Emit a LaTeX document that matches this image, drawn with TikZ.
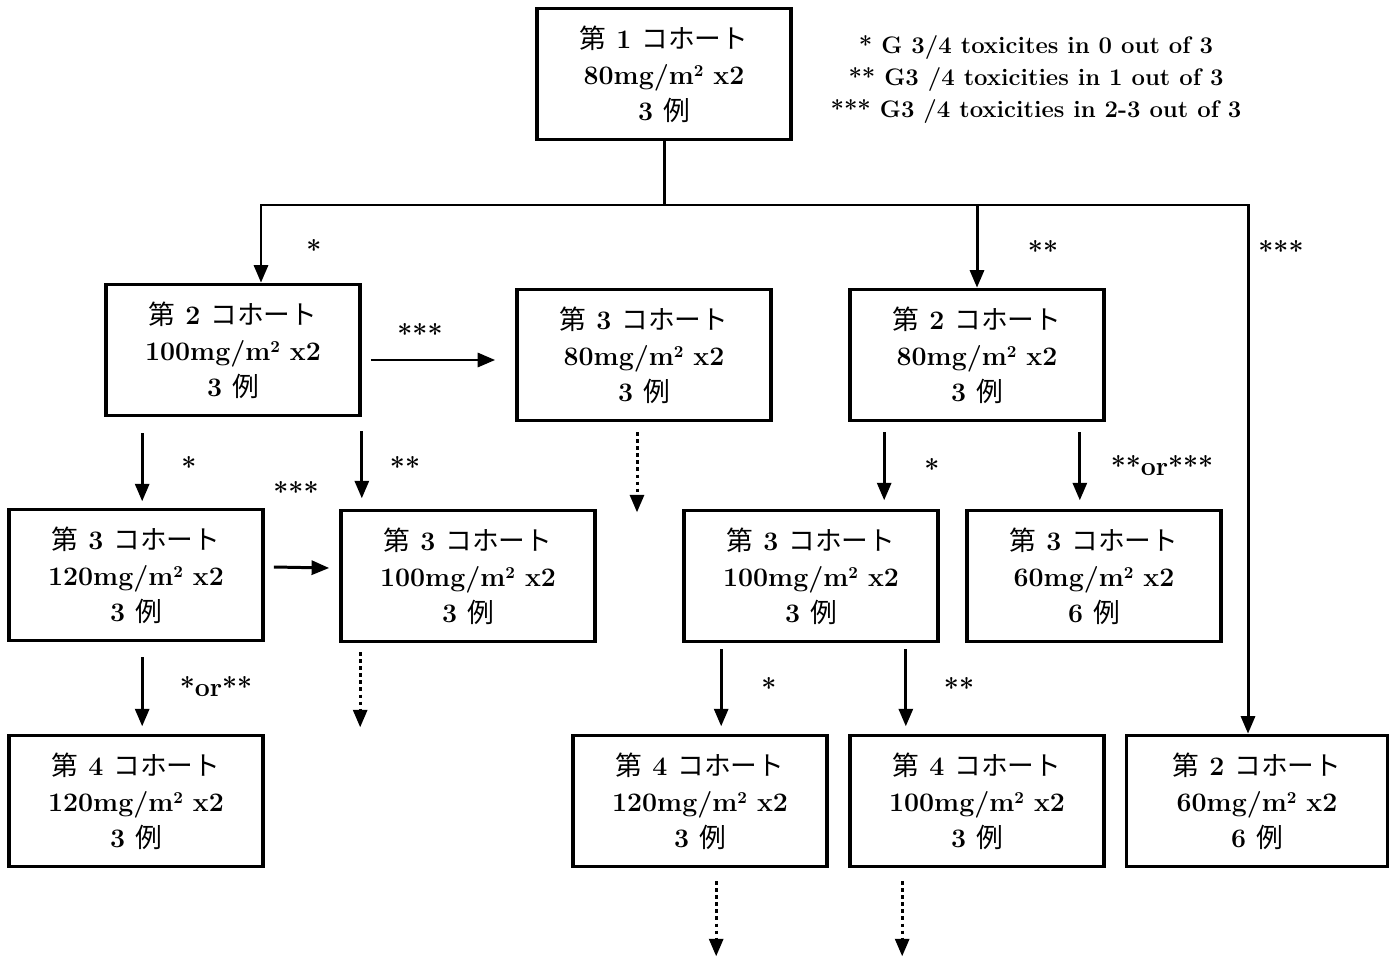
\documentclass[tikz,border=0pt]{standalone}
\usepackage{fontspec}
\newfontfamily\jp{Noto Sans CJK JP}[BoldFont=Noto Sans CJK JP]
\usetikzlibrary{arrows.meta}

\newcommand{\sqm}{m\raisebox{0.62ex}{\fontsize{9.5}{9.5}\selectfont 2}}
\newcommand{\cohort}[3]{{\jp 第} #1 {\jp コホート}\\#2mg/\sqm{} x2\\#3 {\jp 例}}

\begin{document}
\begin{tikzpicture}[x=0.02cm, y=-0.02cm,
    font=\fontsize{15.2}{20.5}\selectfont\bfseries,
    box/.style={rectangle, draw, line width=2.1pt, minimum width=5.08cm,
                minimum height=2.62cm, align=center, inner sep=0pt},
    arr/.style={-{Triangle[length=10pt,width=8pt]}, line width=1.7pt},
    next/.style={arr, dash pattern=on 2pt off 2pt},
    lbl/.style={inner sep=1pt}]
    \useasboundingbox (0,0) rectangle (1396,957);

    % Start
    \node[box] (C1) at (664,74) {\cohort{1}{80}{3}};
    \node[align=center, font=\fontsize{13.6}{18.2}\selectfont\bfseries] (key) at (1036,80)
        {* G 3/4 toxicites in 0 out of 3\\** G3 /4 toxicities in 1 out of 3\\*** G3 /4 toxicities in 2-3 out of 3};

    % Second level
    \node[box] (C2a) at (233,350) {\cohort{2}{100}{3}};
    \node[box] (C3a) at (644,355) {\cohort{3}{80}{3}};
    \node[box] (C2b) at (977,355) {\cohort{2}{80}{3}};

    % Third level
    \node[box] (C3b) at (136,575) {\cohort{3}{120}{3}};
    \node[box] (C3c) at (468,576) {\cohort{3}{100}{3}};
    \node[box] (C3d) at (811,576) {\cohort{3}{100}{3}};
    \node[box] (C3e) at (1094,576) {\cohort{3}{60}{6}};

    % Fourth level
    \node[box] (C4a) at (136,801) {\cohort{4}{120}{3}};
    \node[box] (C4b) at (700,801) {\cohort{4}{120}{3}};
    \node[box] (C4c) at (977,801) {\cohort{4}{100}{3}};
    \node[box, minimum width=5.22cm] (C2c) at (1257,801) {\cohort{2}{60}{6}};

    % Branching from the first cohort
    \coordinate (trunk) at (664,205);
    \coordinate (bl) at (261,205);
    \coordinate (br) at (1248,205);
    \draw[line width=1.7pt] (C1) -- (trunk);
    \draw[arr] (trunk) -| (bl |- C2a.north);
    \draw[arr] (trunk) -| (br |- C2c.north);
    \draw[arr] (trunk -| C2b) -- (C2b);

    % Arrows
    \draw[arr] ([shift={(9,10)}]C2a.east) -- ([shift={(-20,5)}]C3a.west);
    \draw[arr] ([shift={(38,16)}]C2a.south west) -- ++(0,68);
    \draw[arr] ([shift={(0,14)}]C2a.south east) -- ++(0,67);
    \draw[next] ([shift={(-7,10)}]C3a.south) -- ++(0,80);
    \draw[arr] ([shift={(36,10)}]C2b.south west) -- ++(0,68);
    \draw[arr] ([shift={(-26,10)}]C2b.south east) -- ++(0,68);
    \draw[arr] ([shift={(9,-8)}]C3b.east) -- ([shift={(-10,-8)}]C3c.west);
    \draw[arr] ([shift={(135,15)}]C3b.south west) -- ++(0,69);
    \draw[next] ([shift={(21,9)}]C3c.south west) -- ++(0,75);
    \draw[arr] ([shift={(39,6)}]C3d.south west) -- ++(0,77);
    \draw[arr] ([shift={(-34,6)}]C3d.south east) -- ++(0,77);
    \draw[next] ([shift={(145,13)}]C4b.south west) -- ++(0,75);
    \draw[next] ([shift={(54,13)}]C4c.south west) -- ++(0,75);

    % Labels
    \node[lbl] (l1) at (314,249) {*};
    \node[lbl] (l2) at (1043,250) {**};
    \node[lbl] (l3) at (1281,250) {***};
    \node[lbl] (l4) at (420,333) {***};
    \node[lbl] (l5) at (189,466) {*};
    \node[lbl] (l6) at (405,466) {**};
    \node[lbl] (l7) at (296,491) {***};
    \node[lbl] (l8) at (932,468) {*};
    \node[lbl] (l9) at (1162,466) {**or***};
    \node[lbl] (l10) at (216,687) {*or**};
    \node[lbl] (l11) at (769,687) {*};
    \node[lbl] (l12) at (959,687) {**};
\end{tikzpicture}
\end{document}
